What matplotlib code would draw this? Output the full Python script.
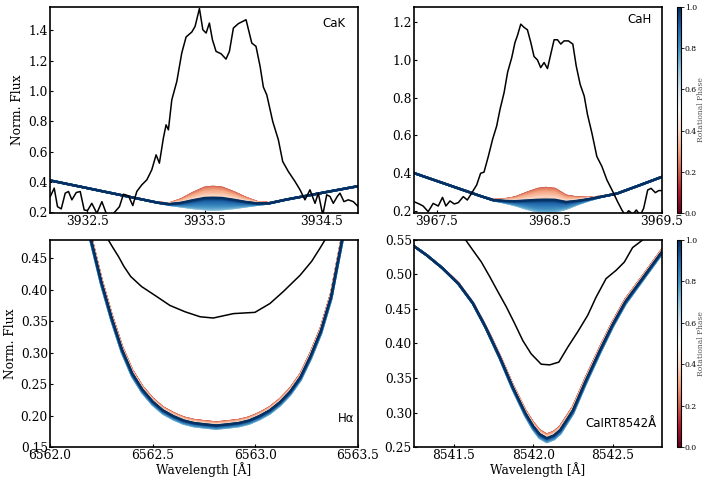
import numpy as np
import matplotlib
matplotlib.use("Agg")
import matplotlib.pyplot as plt
from matplotlib.colors import Normalize
from matplotlib.cm import ScalarMappable
from matplotlib.ticker import FormatStrFormatter

# --------------------------------------------------------------------------- #
# rotational phases of the model spectra and the relative core height of each
# (0 = lowest / deepest model, 1 = highest core)
# --------------------------------------------------------------------------- #
PHASES = [0.000, 0.025, 0.050, 0.075, 0.100, 0.125, 0.150, 0.175, 0.200, 0.225,
          0.250, 0.275, 0.300, 0.325, 0.350, 0.375, 0.400, 0.425, 0.450, 0.475,
          0.500, 0.525, 0.550, 0.575, 0.600, 0.625, 0.650, 0.675, 0.700, 0.725,
          0.750, 0.775, 0.800, 0.825, 0.850, 0.875, 0.900, 0.925, 0.950, 0.975,
          1.000]
CORE_W = [0.62, 0.70, 0.78, 0.85, 0.91, 0.95, 0.98, 1.00, 1.00, 0.98,
          0.95, 0.90, 0.85, 0.79, 0.72, 0.65, 0.58, 0.50, 0.43, 0.36,
          0.29, 0.22, 0.16, 0.11, 0.06, 0.03, 0.01, 0.00, 0.01, 0.03,
          0.06, 0.10, 0.15, 0.20, 0.26, 0.32, 0.38, 0.43, 0.47, 0.50,
          0.53]

# ---- Ca II K ----------------------------------------------------------------
cak_obs_wl = [3932.182, 3932.216, 3932.244, 3932.276, 3932.310, 3932.338, 3932.367,
              3932.404, 3932.438, 3932.472, 3932.500, 3932.537, 3932.580, 3932.623,
              3932.660, 3932.694, 3932.736, 3932.773, 3932.807, 3932.850, 3932.887,
              3932.921, 3932.964, 3933.007, 3933.049, 3933.086, 3933.114, 3933.148,
              3933.171, 3933.191, 3933.220, 3933.263, 3933.305, 3933.342, 3933.391,
              3933.419, 3933.456, 3933.485, 3933.513, 3933.541, 3933.567, 3933.598,
              3933.641, 3933.683, 3933.712, 3933.746, 3933.788, 3933.854, 3933.903,
              3933.939, 3933.974, 3934.002, 3934.031, 3934.082, 3934.130, 3934.167,
              3934.215, 3934.272, 3934.315, 3934.357, 3934.400, 3934.443, 3934.471,
              3934.509, 3934.543, 3934.571, 3934.599, 3934.633, 3934.656, 3934.690,
              3934.727, 3934.770, 3934.812]
cak_obs_fl = [0.303, 0.359, 0.237, 0.222, 0.326, 0.337, 0.282, 0.330, 0.337, 0.215,
              0.211, 0.259, 0.193, 0.270, 0.193, 0.171, 0.204, 0.237, 0.319, 0.308,
              0.244, 0.337, 0.381, 0.414, 0.480, 0.579, 0.524, 0.689, 0.777, 0.744,
              0.942, 1.064, 1.251, 1.357, 1.390, 1.427, 1.545, 1.405, 1.383, 1.449,
              1.339, 1.262, 1.246, 1.211, 1.262, 1.416, 1.445, 1.471, 1.317, 1.295,
              1.163, 1.026, 0.975, 0.799, 0.678, 0.535, 0.469, 0.403, 0.348, 0.282,
              0.348, 0.259, 0.326, 0.182, 0.315, 0.304, 0.259, 0.304, 0.326, 0.270,
              0.282, 0.270, 0.237]
cak_mod_wl = [3932.18, 3932.40, 3932.60, 3932.80, 3933.00, 3933.10, 3933.20, 3933.30,
              3933.40, 3933.50, 3933.57, 3933.65, 3933.75, 3933.85, 3933.95, 3934.05,
              3934.20, 3934.40, 3934.60, 3934.81]
cak_mod_low = [0.410, 0.375, 0.343, 0.311, 0.279, 0.263, 0.249, 0.238, 0.227, 0.219,
               0.216, 0.219, 0.227, 0.238, 0.249, 0.258, 0.284, 0.313, 0.342, 0.372]
cak_mod_dlt = [0.0, 0.0, 0.0, 0.0, 0.0, 0.0, 0.009, 0.047, 0.100, 0.143,
               0.152, 0.143, 0.105, 0.058, 0.018, 0.002, 0.0, 0.0, 0.0, 0.0]

# ---- Ca II H ----------------------------------------------------------------
cah_obs_wl = [3967.300, 3967.346, 3967.381, 3967.426, 3967.470, 3967.515, 3967.553,
              3967.583, 3967.619, 3967.657, 3967.693, 3967.737, 3967.773, 3967.811,
              3967.856, 3967.891, 3967.921, 3967.959, 3967.998, 3968.033, 3968.063,
              3968.099, 3968.131, 3968.167, 3968.196, 3968.217, 3968.247, 3968.276,
              3968.306, 3968.336, 3968.365, 3968.395, 3968.424, 3968.454, 3968.484,
              3968.513, 3968.543, 3968.573, 3968.602, 3968.631, 3968.670, 3968.709,
              3968.739, 3968.774, 3968.810, 3968.839, 3968.878, 3968.922, 3968.967,
              3969.011, 3969.064, 3969.106, 3969.144, 3969.173, 3969.204, 3969.243,
              3969.272, 3969.307, 3969.337, 3969.373, 3969.403, 3969.441, 3969.470,
              3969.500]
cah_obs_fl = [0.248, 0.236, 0.225, 0.195, 0.239, 0.225, 0.271, 0.225, 0.252, 0.236,
              0.243, 0.275, 0.257, 0.293, 0.337, 0.399, 0.405, 0.488, 0.581, 0.649,
              0.738, 0.827, 0.937, 1.013, 1.094, 1.129, 1.191, 1.174, 1.161, 1.094,
              1.019, 1.001, 0.960, 0.987, 0.955, 1.031, 1.108, 1.108, 1.085, 1.102,
              1.102, 1.085, 0.969, 0.871, 0.809, 0.711, 0.613, 0.488, 0.435, 0.364,
              0.301, 0.248, 0.204, 0.177, 0.200, 0.182, 0.204, 0.177, 0.212, 0.310,
              0.319, 0.296, 0.307, 0.307]
cah_mod_wl = [3967.30, 3967.60, 3967.90, 3968.00, 3968.10, 3968.20, 3968.30, 3968.40,
              3968.47, 3968.55, 3968.65, 3968.75, 3968.85, 3968.95, 3969.10, 3969.30,
              3969.50]
cah_mod_low = [0.400, 0.338, 0.276, 0.256, 0.244, 0.229, 0.210, 0.194, 0.190, 0.194,
               0.210, 0.234, 0.255, 0.272, 0.291, 0.335, 0.380]
cah_mod_dlt = [0.0, 0.0, 0.0, 0.002, 0.016, 0.042, 0.085, 0.122, 0.131, 0.122,
               0.070, 0.036, 0.013, 0.002, 0.0, 0.0, 0.0]

# ---- H alpha ----------------------------------------------------------------
ha_obs_wl = [6562.284, 6562.308, 6562.333, 6562.360, 6562.393, 6562.446, 6562.511,
             6562.584, 6562.657, 6562.731, 6562.795, 6562.893, 6562.998, 6563.071,
             6563.136, 6563.218, 6563.274, 6563.315, 6563.339]
ha_obs_fl = [0.479, 0.466, 0.453, 0.437, 0.421, 0.405, 0.391, 0.375, 0.365, 0.357,
             0.355, 0.362, 0.364, 0.378, 0.397, 0.423, 0.445, 0.466, 0.479]
ha_mod_wl = [6562.00, 6562.15, 6562.20, 6562.25, 6562.30, 6562.35, 6562.40, 6562.45,
             6562.50, 6562.55, 6562.60, 6562.65, 6562.70, 6562.75, 6562.81, 6562.87,
             6562.92, 6562.97, 6563.02, 6563.07, 6563.12, 6563.17, 6563.22, 6563.27,
             6563.32, 6563.37, 6563.42, 6563.50]
ha_mod_low = [0.800, 0.530, 0.474, 0.407, 0.350, 0.300, 0.262, 0.236, 0.217, 0.203,
              0.194, 0.187, 0.183, 0.181, 0.179, 0.181, 0.183, 0.187, 0.194, 0.203,
              0.216, 0.233, 0.256, 0.290, 0.330, 0.385, 0.470, 0.600]
ha_mod_dlt = [0.010] * 28

# ---- Ca II IRT 8542 ---------------------------------------------------------
irt_obs_wl = [8541.575, 8541.621, 8541.674, 8541.726, 8541.778, 8541.831, 8541.883,
              8541.935, 8541.987, 8542.050, 8542.103, 8542.161, 8542.218, 8542.280,
              8542.343, 8542.395, 8542.458, 8542.521, 8542.573, 8542.625, 8542.688]
irt_obs_fl = [0.550, 0.535, 0.518, 0.497, 0.475, 0.453, 0.429, 0.404, 0.385, 0.370,
              0.369, 0.373, 0.395, 0.417, 0.441, 0.467, 0.494, 0.506, 0.518, 0.539,
              0.550]
irt_mod_wl = [8541.25, 8541.33, 8541.43, 8541.53, 8541.62, 8541.70, 8541.79, 8541.87,
              8541.95, 8542.00, 8542.04, 8542.085, 8542.13, 8542.17, 8542.25, 8542.33,
              8542.42, 8542.50, 8542.58, 8542.69, 8542.81]
irt_mod_low = [0.541, 0.528, 0.509, 0.486, 0.458, 0.423, 0.378, 0.334, 0.295, 0.275,
               0.263, 0.257, 0.261, 0.269, 0.298, 0.341, 0.386, 0.424, 0.457, 0.492,
               0.530]
irt_mod_dlt = [0.0, 0.0, 0.0, 0.001, 0.001, 0.002, 0.004, 0.006, 0.008, 0.010,
               0.011, 0.011, 0.011, 0.011, 0.010, 0.009, 0.008, 0.007, 0.007, 0.006,
               0.006]

PANELS = [
    dict(name="CaK", obs=(cak_obs_wl, cak_obs_fl), mod=(cak_mod_wl, cak_mod_low, cak_mod_dlt),
         xlim=(3932.18, 3934.81), ylim=(0.195, 1.555),
         xticks=[3932.5, 3933.5, 3934.5], yticks=[0.2, 0.4, 0.6, 0.8, 1.0, 1.2, 1.4],
         fmt="%.1f", txt=(0.885, 0.905)),
    dict(name="CaH", obs=(cah_obs_wl, cah_obs_fl), mod=(cah_mod_wl, cah_mod_low, cah_mod_dlt),
         xlim=(3967.30, 3969.50), ylim=(0.188, 1.282),
         xticks=[3967.5, 3968.5, 3969.5], yticks=[0.2, 0.4, 0.6, 0.8, 1.0, 1.2],
         fmt="%.1f", txt=(0.862, 0.92)),
    dict(name="H\u03b1", obs=(ha_obs_wl, ha_obs_fl), mod=(ha_mod_wl, ha_mod_low, ha_mod_dlt),
         xlim=(6562.0, 6563.5), ylim=(0.15, 0.479),
         xticks=[6562.0, 6562.5, 6563.0, 6563.5],
         yticks=[0.15, 0.20, 0.25, 0.30, 0.35, 0.40, 0.45],
         fmt="%.2f", txt=(0.935, 0.12)),
    dict(name="CaIRT8542\u00c5", obs=(irt_obs_wl, irt_obs_fl),
         mod=(irt_mod_wl, irt_mod_low, irt_mod_dlt),
         xlim=(8541.25, 8542.81), ylim=(0.25, 0.55),
         xticks=[8541.5, 8542.0, 8542.5],
         yticks=[0.25, 0.30, 0.35, 0.40, 0.45, 0.50, 0.55],
         fmt="%.2f", txt=(0.69, 0.097)),
]

W, H = 705, 484
fig = plt.figure(figsize=(W / 100, H / 100), dpi=100)


def box(x0, y0, x1, y1):
    return [x0 / W, 1 - y1 / H, (x1 - x0) / W, (y1 - y0) / H]


boxes = [box(50, 7, 358, 213), box(414, 7, 662, 213),
         box(50, 240, 358, 447), box(414, 240, 662, 447)]
cbar_boxes = [box(677, 7, 680.5, 213), box(677, 240, 680.5, 447)]

cmap = plt.get_cmap("RdBu")
norm = Normalize(0, 1)
serif = "DejaVu Serif"

for j, (p, b) in enumerate(zip(PANELS, boxes)):
    ax = fig.add_axes(b)
    wl, low, dlt = (np.asarray(a) for a in p["mod"])
    for ph, w in zip(PHASES, CORE_W):
        ax.plot(wl, low + w * dlt, color=cmap(norm(ph)), lw=1.6, zorder=2)
    ax.plot(p["obs"][0], p["obs"][1], color="k", lw=1.1, zorder=3)

    ax.set_xlim(*p["xlim"]); ax.set_ylim(*p["ylim"])
    ax.set_xticks(p["xticks"]); ax.set_yticks(p["yticks"])
    ax.xaxis.set_major_formatter(FormatStrFormatter("%.1f"))
    ax.yaxis.set_major_formatter(FormatStrFormatter(p["fmt"]))
    ax.tick_params(direction="in", length=2, width=0.8, labelsize=8.8, pad=1.5)
    for lab in ax.get_xticklabels() + ax.get_yticklabels():
        lab.set_family(serif)
    for s in ax.spines.values():
        s.set_linewidth(1.2)
    ax.text(p["txt"][0], p["txt"][1], p["name"], transform=ax.transAxes,
            fontsize=8.5, family="DejaVu Sans")
    if j % 2 == 0:
        ax.set_ylabel("Norm. Flux", family=serif, fontsize=8.8, labelpad=3)
    if j >= 2:
        ax.set_xlabel("Wavelength [\u00c5]", family=serif, fontsize=8.8, labelpad=0)

for cb in cbar_boxes:
    cax = fig.add_axes(cb)
    sm = ScalarMappable(norm=norm, cmap=cmap)
    c = fig.colorbar(sm, cax=cax, ticks=[0.0, 0.2, 0.4, 0.6, 0.8, 1.0])
    c.outline.set_linewidth(0.8)
    cax.tick_params(labelsize=5.5, length=2, width=0.6, pad=1)
    for lab in cax.get_yticklabels():
        lab.set_family(serif)
    c.set_label("Rotational Phase", family=serif, fontsize=5.5, color="#555555",
                labelpad=0.5)

fig.savefig("out.png", dpi=100)
